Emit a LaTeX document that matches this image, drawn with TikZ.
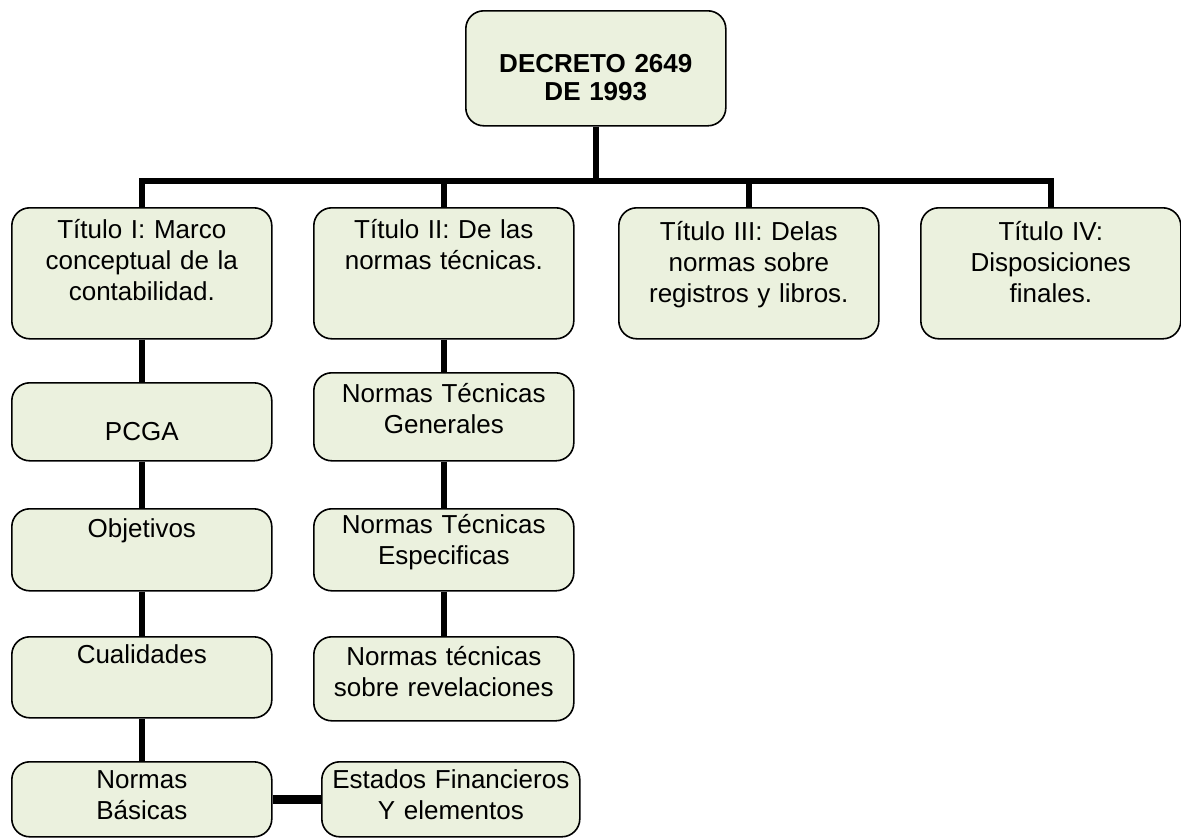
\documentclass[tikz,border=0pt]{standalone}
\usepackage{fontspec}
\setmainfont{Liberation Sans}
\definecolor{boxG}{RGB}{235,241,222}
\tikzstyle{bS}=[draw=black, line width=1.6pt, fill=boxG, rounded corners=18pt, anchor=north west, inner xsep=10pt, inner ysep=0pt, text width=240pt, align=center, font=\fontsize{26}{31}\selectfont]
\tikzstyle{tS}=[bS, font=\fontsize{26}{28}\selectfont\bfseries]
\tikzstyle{eS}=[line width=5.5pt]
\tikzstyle{eT}=[line width=9pt]

\begin{document}
\begin{tikzpicture}[x=1pt,y=-1pt]
                \useasboundingbox (0,0) rectangle (1181,839);
                \draw (465,10) node[tS, text height=62pt, text depth=53pt] (dec) {DECRETO 2649\\DE 1993};
                % titulos
                \draw (11,207) node[bS, text height=31pt, text depth=100pt] (t1) {Título I: Marco\\conceptual de la\\contabilidad.};
                \draw (313,207) node[bS, text height=31pt, text depth=100pt] (t2) {Título II: De las\\normas técnicas.};
                \draw (618,207) node[bS, text height=33pt, text depth=98pt] (t3) {Título III: Delas\\normas sobre\\registros y libros.};
                \draw (920,207) node[bS, text height=33pt, text depth=98pt] (t4) {Título IV:\\Disposiciones\\finales.};
                % columna 1
                \draw (11,382) node[bS, text height=58pt, text depth=20pt] (pcga) {PCGA};
                \draw (11,508) node[bS, text height=29pt, text depth=53pt] (obj) {Objetivos};
                \draw (11,636) node[bS, text height=27pt, text depth=54pt] (cual) {Cualidades};
                \draw (11,761) node[bS, text height=27pt, text depth=48pt] (nb) {Normas\\Básicas};
                % columna 2
                \draw (313,372) node[bS, text height=30pt, text depth=58pt] (ntg) {Normas Técnicas\\Generales};
                \draw (313,508) node[bS, text height=25pt, text depth=57pt] (nte) {Normas Técnicas\\Especificas};
                \draw (313,636) node[bS, text height=29pt, text depth=55pt] (ntr) {Normas técnicas\\sobre revelaciones};
                \draw (321,761) node[bS, text width=244pt, inner xsep=7pt, text height=27pt, text depth=48pt] (ef) {Estados Financieros\\Y elementos};
                % barra
                \coordinate (bar) at (0,181);
                \draw[eS] (dec.south) -- (dec.south |- bar);
                \draw[eS] (t1.north) |- (t4.north |- bar) -- (t4.north);
                \draw[eS] (t2.north) -- (t2.north |- bar);
                \draw[eS] (t3.north) -- (t3.north |- bar);
                \path
                    (t1) edge[eS] (pcga)
                    (pcga) edge[eS] (obj)
                    (obj) edge[eS] (cual)
                    (cual) edge[eS] (nb)
                    (t2) edge[eS] (ntg)
                    (ntg) edge[eS] (nte)
                    (nte) edge[eS] (ntr)
                    (nb) edge[eT] (ef)
                ;
        \end{tikzpicture}
\end{document}
